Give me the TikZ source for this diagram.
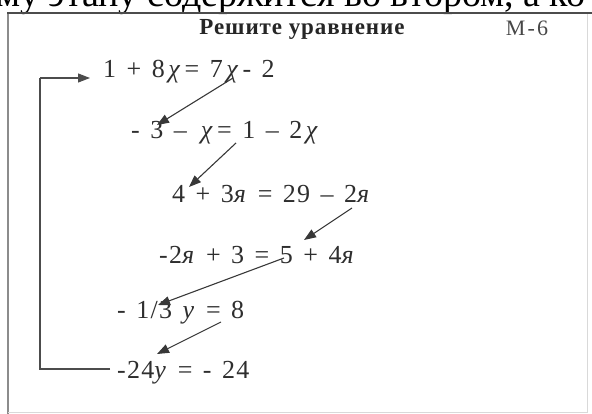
\documentclass[tikz,border=0pt]{standalone}
\usepackage{fontspec}
\setmainfont{Liberation Serif}
\newfontfamily\eqfam[LetterSpace=5]{Liberation Serif}
\newfontfamily\titlefam[LetterSpace=4]{Liberation Serif}
\newfontfamily\codefam[LetterSpace=10]{Liberation Serif}
\usetikzlibrary{arrows.meta}
\newcommand{\vx}{\hspace{3.5pt}\textit{χ}\hspace{3pt}}
\newcommand{\vya}{\textit{я}}
\newcommand{\vy}{\textit{y}}
\newcommand{\eqfont}{\eqfam\fontsize{26}{29}\selectfont\spaceskip=10.5pt plus 1pt minus 1pt\relax}
\newcommand{\titlefont}{\titlefam\bfseries\fontsize{23}{27}\selectfont}
\newcommand{\codefont}{\codefam\fontsize{22}{26}\selectfont}
\begin{document}
\begin{tikzpicture}[x=1pt,y=-1pt,
  eq/.style={font=\eqfont, inner sep=0pt, anchor=west, text=black!82},
  tip/.style={-{Triangle[length=12pt,width=9pt]}},
  arr/.style={tip, line width=1.1pt, draw=black!78},
  brk/.style={line width=1.1pt, draw=black!70}]
\useasboundingbox (0,0) rectangle (592,414);
\begin{scope}
\clip (0,0) rectangle (592,414);
\node[anchor=base west, font=\fontsize{38}{43}\selectfont, inner sep=0pt] (top) at (-4,7) {му этапу содержится во втором, а ко};
\end{scope}
% frame
\draw[line width=1.5pt, draw=black!45] (8,13) -- (8,414);
\draw[line width=0.6pt, draw=black!15] (587,13) -- (587,412) -- (8,412);
\draw[line width=2pt, draw=black!70] (7,13) -- (592,13);
% title
\node[font=\titlefont, text=black!85, inner sep=0pt] (title) at (302,29) {Решите уравнение};
\node[font=\codefont, text=black!72, inner sep=0pt] (code) at (527,28) {М-6};
% equations
\node[eq] (r1) at (103,72) {1 + 8\vx = 7\vx - 2};
\node[eq] (r2) at (131,133) {- 3 – \vx = 1 – 2\vx};
\node[eq] (r3) at (172,194) {4 + 3\vya{} = 29 – 2\vya};
\node[eq] (r4) at (159,255) {-2\vya{} + 3 = 5 + 4\vya};
\node[eq] (r5) at (117,313) {- 1/3 \vy{} = 8};
\node[eq] (r6) at (117,373) {-24\vy{} = - 24};
% arrow coordinates
\coordinate (a1s) at (233,78);
\coordinate (a1e) at (157,125);
\coordinate (a2s) at (236,143);
\coordinate (a2e) at (189,187);
\coordinate (a3s) at (352,208);
\coordinate (a3e) at (304,240);
\coordinate (a4s) at (284,258);
\coordinate (a4e) at (158,305);
\coordinate (a5s) at (221,322);
\coordinate (a5e) at (157,354);
\draw[arr] (a1s) -- (a1e);
\draw[arr] (a2s) -- (a2e);
\draw[arr] (a3s) -- (a3e);
\draw[arr] (a4s) -- (a4e);
\draw[arr] (a5s) -- (a5e);
% bracket loop
\coordinate (bt) at (40,78);
\coordinate (bb) at (40,369);
\coordinate (be) at (110,369);
\coordinate (bh) at (90,78);
\draw[brk] (be) -- (bb) -- (bt);
\draw[brk, tip] (bt) -- (bh);
\end{tikzpicture}
\end{document}
